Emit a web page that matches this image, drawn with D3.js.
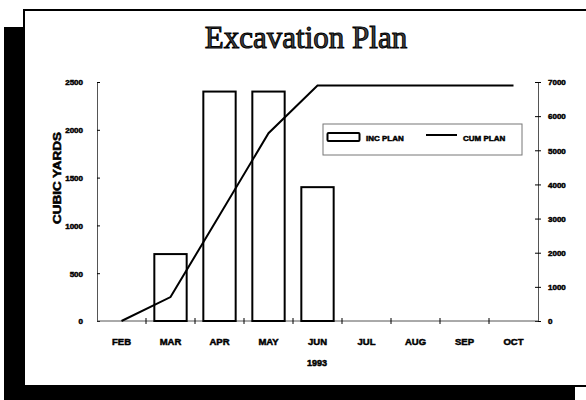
<!DOCTYPE html>
<html>
<head>
<meta charset="utf-8">
<script src="https://cdn.jsdelivr.net/npm/d3@7"></script>
<style>
  html, body { margin: 0; padding: 0; background: #fff; }
  svg { display: block; }
  .lbl { font-family: "Liberation Sans", Arial, sans-serif; font-weight: bold; fill: #000; stroke: #000; stroke-width: 0.5; }
</style>
</head>
<body>
<svg id="chart" width="586" height="400"></svg>
<script>
// Monthly excavation plan, 1993
const months = ["FEB", "MAR", "APR", "MAY", "JUN", "JUL", "AUG", "SEP", "OCT"];
const incPlan = [0, 700, 2400, 2400, 1400, 0, 0, 0, 0];
const cumPlan = [0, 700, 3100, 5500, 6900, 6900, 6900, 6900, 6900];
const leftTicks = [0, 500, 1000, 1500, 2000, 2500];
const rightTicks = [0, 1000, 2000, 3000, 4000, 5000, 6000, 7000];

const svg = d3.select("#chart");

// Card with offset drop shadow
svg.append("rect").attr("x", 4).attr("y", 27).attr("width", 571).attr("height", 400).attr("fill", "#000");
svg.append("rect").attr("x", 24).attr("y", 10).attr("width", 600).attr("height", 376)
  .attr("fill", "#fff").attr("stroke", "#000").attr("stroke-width", 2);

// Title
svg.append("text")
  .attr("x", 306).attr("y", 48)
  .attr("text-anchor", "middle")
  .attr("font-family", "'Liberation Serif', 'Times New Roman', serif")
  .attr("font-size", 31)
  .attr("fill", "#444").attr("stroke", "#000").attr("stroke-width", 1)
  .text("Excavation Plan");

const plot = { left: 97, right: 538, top: 82, bottom: 321 };

const x = d3.scaleBand().domain(months).range([plot.left, plot.right]).padding(0);
const yL = d3.scaleLinear().domain([0, 2500]).range([plot.bottom, plot.top]);
const yR = d3.scaleLinear().domain([0, 7000]).range([plot.bottom, plot.top]);

const axisColor = "#555";
const fmt = d3.format("d");

// Left axis
const gL = svg.append("g").attr("transform", `translate(${plot.left},0)`)
  .call(d3.axisLeft(yL).tickValues(leftTicks).tickFormat(fmt).tickSize(3).tickSizeOuter(0).tickPadding(11));
gL.select(".domain").attr("stroke", axisColor);
gL.selectAll(".tick line").attr("stroke", "#000").attr("x2", 3);
gL.selectAll(".tick text").attr("class", "lbl").attr("font-size", 8).attr("dy", "0.35em");

// Right axis
const gR = svg.append("g").attr("transform", `translate(${plot.right},0)`)
  .call(d3.axisRight(yR).tickValues(rightTicks).tickFormat(fmt).tickSize(3).tickSizeOuter(0).tickPadding(7));
gR.select(".domain").attr("stroke", axisColor);
gR.selectAll(".tick line").attr("stroke", "#000").attr("x2", 3).attr("x1", -3);
gR.selectAll(".tick text").attr("class", "lbl").attr("font-size", 8).attr("dy", "0.35em");

// Bottom axis: ticks at band edges, labels at band centres
const edges = months.map(m => x(m)).concat([plot.right]);
svg.append("line").attr("x1", plot.left).attr("x2", plot.right)
  .attr("y1", plot.bottom).attr("y2", plot.bottom).attr("stroke", axisColor);
svg.append("g").selectAll("line").data(edges.slice(1, -1)).join("line")
  .attr("x1", d => d).attr("x2", d => d)
  .attr("y1", plot.bottom - 3).attr("y2", plot.bottom + 3)
  .attr("stroke", "#000");
svg.append("g").selectAll("text").data(months).join("text")
  .attr("class", "lbl").attr("font-size", 9.5)
  .attr("text-anchor", "middle")
  .attr("x", d => x(d) + x.bandwidth() / 2)
  .attr("y", 345)
  .text(d => d);

svg.append("text").attr("class", "lbl").attr("font-size", 9)
  .attr("text-anchor", "middle").attr("x", 317).attr("y", 366).text("1993");

// Left axis title
svg.append("text").attr("class", "lbl").attr("font-size", 10)
  .attr("text-anchor", "middle")
  .attr("transform", "translate(61,178) rotate(-90)")
  .attr("textLength", 92).attr("lengthAdjust", "spacingAndGlyphs")
  .text("CUBIC YARDS");

// Incremental bars
const bw = x.bandwidth() * 0.66;
svg.append("g").selectAll("rect").data(months.map((m, i) => ({ m, v: incPlan[i] })).filter(d => d.v > 0))
  .join("rect")
  .attr("x", d => x(d.m) + (x.bandwidth() - bw) / 2)
  .attr("y", d => yL(d.v))
  .attr("width", bw)
  .attr("height", d => yL(0) - yL(d.v))
  .attr("fill", "#fff").attr("stroke", "#000").attr("stroke-width", 2);

// Cumulative line
const line = d3.line()
  .x((d, i) => x(months[i]) + x.bandwidth() / 2)
  .y(d => yR(d));
svg.append("path").datum(cumPlan)
  .attr("d", line)
  .attr("fill", "none").attr("stroke", "#000").attr("stroke-width", 2);

// Legend
const lg = svg.append("g");
lg.append("rect").attr("x", 323).attr("y", 124).attr("width", 199).attr("height", 31)
  .attr("fill", "#fff").attr("stroke", "#777").attr("stroke-width", 1);
lg.append("rect").attr("x", 327.5).attr("y", 133).attr("width", 32).attr("height", 8).attr("rx", 1)
  .attr("fill", "#fff").attr("stroke", "#000").attr("stroke-width", 2);
lg.append("text").attr("class", "lbl").attr("font-size", 8).attr("x", 366).attr("y", 141).text("INC PLAN");
lg.append("line").attr("x1", 426).attr("x2", 457).attr("y1", 135).attr("y2", 135)
  .attr("stroke", "#000").attr("stroke-width", 2);
lg.append("text").attr("class", "lbl").attr("font-size", 8).attr("x", 463).attr("y", 141).text("CUM PLAN");
</script>
</body>
</html>
